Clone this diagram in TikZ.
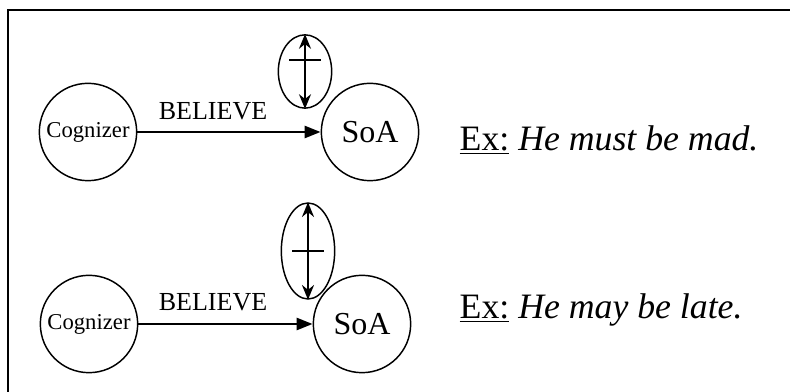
\documentclass[tikz,border=0pt]{standalone}
\usepackage{fontspec}
\setmainfont{Liberation Serif}
\usetikzlibrary{arrows.meta,shapes.geometric}
\begin{document}
\begin{tikzpicture}[x=0.75pt,y=-0.75pt,
  ring/.style={draw, circle, line width=1.1pt, inner sep=0pt, minimum size=73pt},
  modal/.style={draw, ellipse, line width=1.1pt, inner sep=0pt, minimum width=40pt},
  believe/.style={line width=2pt, -{Triangle[length=12pt,width=9pt]}},
  force/.style={line width=1.6pt, {Stealth[length=11pt,width=9pt]}-{Stealth[length=11pt,width=9pt]}},
  bar/.style={line width=1.3pt},
  cogfont/.style={font=\fontsize{17}{20}\selectfont},
  soafont/.style={font=\fontsize{24}{28}\selectfont},
  verbfont/.style={font=\fontsize{19.5}{23}\selectfont},
  exfont/.style={font=\fontsize{26.8}{31}\selectfont}]
\clip (0,0) rectangle (790,392);
% outer frame
\draw[line width=1.3pt] (8,10) rectangle (820,420);

% ---- upper panel: must ----
\node[ring, cogfont] (cogA) at (88,132) {Cognizer};
\node[ring, soafont] (soaA) at (370,132) {SoA};
\draw[believe] (cogA) -- (soaA);
\node[verbfont] (verbA) at (213,111) {BELIEVE};
\node[modal, minimum height=55pt] (modA) at (305,71.5) {};
\draw[force] (modA.north) -- (modA.south);
\draw[bar] ([xshift=-12pt,yshift=8.5pt]modA.center) -- ([xshift=12pt,yshift=8.5pt]modA.center);
\node[exfont, anchor=west] (exA) at (455,140) {\underline{Ex:} \textit{He must be mad.}};

% ---- lower panel: may ----
\node[ring, cogfont] (cogB) at (89,324) {Cognizer};
\node[ring, soafont] (soaB) at (362,324) {SoA};
\draw[believe] (cogB) -- (soaB);
\node[verbfont] (verbB) at (213,302) {BELIEVE};
\node[modal, minimum height=72pt] (modB) at (308,251) {};
\draw[force] (modB.north) -- (modB.south);
\draw[bar] ([xshift=-12pt]modB.center) -- ([xshift=12pt]modB.center);
\node[exfont, anchor=west] (exB) at (455,310) {\underline{Ex:} \textit{He may be late.}};
\end{tikzpicture}
\end{document}
